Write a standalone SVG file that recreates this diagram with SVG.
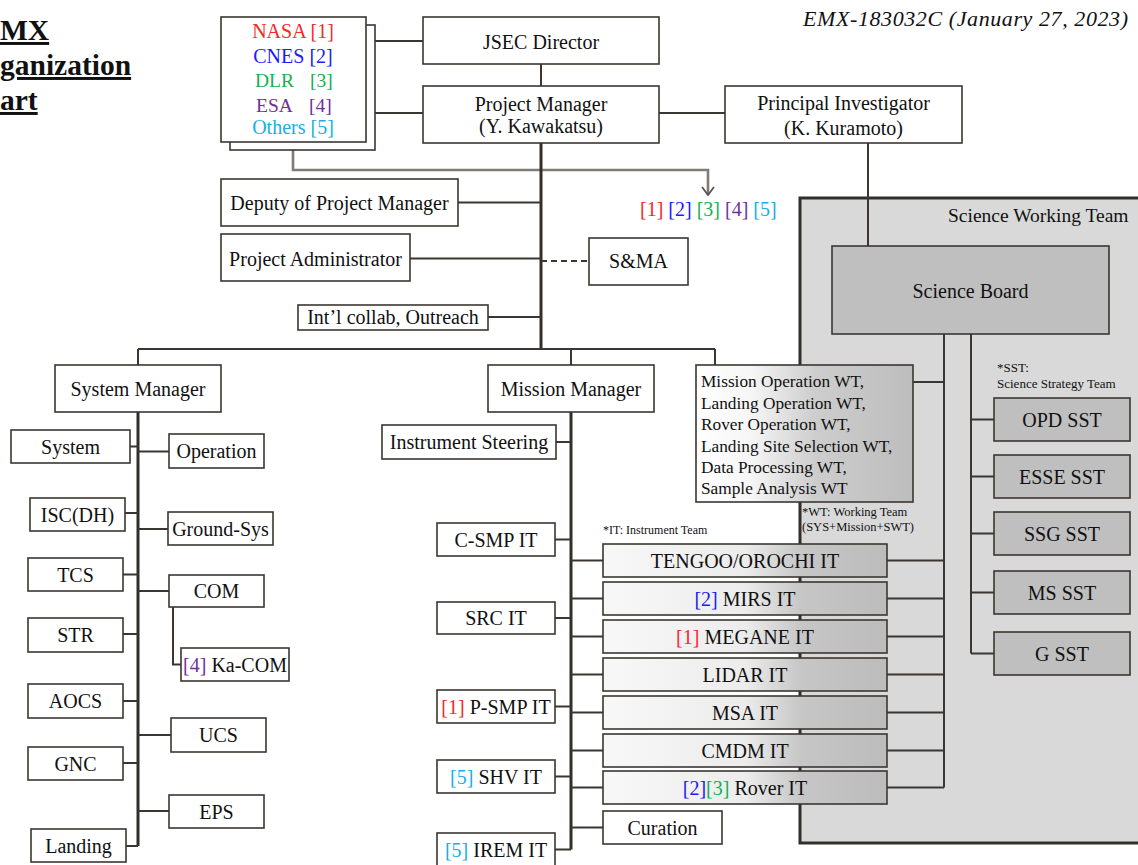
<svg xmlns="http://www.w3.org/2000/svg" width="1138" height="865" viewBox="0 0 1138 865">
<defs>
<style>
.b{fill:#fff;stroke:#3b3631;stroke-width:1.6}
.t{font-family:"Liberation Serif","Times New Roman",serif;font-size:20px;fill:#111;text-anchor:middle}
.s{font-family:"Liberation Serif","Times New Roman",serif;fill:#111}
.ln{stroke:#3b3631;stroke-width:2;fill:none}
.tr{stroke:#332e29;stroke-width:3;fill:none}
.red{fill:#f22a2a}.blu{fill:#1a1aff}.grn{fill:#15b050}.pur{fill:#7030a0}.cya{fill:#19aee8}
.gb{fill:#bfbfbf;stroke:#3b3631;stroke-width:1.6}
.it{fill:url(#itg);stroke:#3b3631;stroke-width:1.6}
</style>
<linearGradient id="itg" x1="0" y1="0" x2="1" y2="0">
<stop offset="0" stop-color="#f8f8f8"/>
<stop offset="0.5" stop-color="#ececec"/>
<stop offset="0.7" stop-color="#c6c6c6"/>
<stop offset="1" stop-color="#bcbcbc"/>
</linearGradient>
<linearGradient id="wtg" x1="0" y1="0" x2="1" y2="0">
<stop offset="0" stop-color="#ffffff"/>
<stop offset="0.25" stop-color="#f6f6f6"/>
<stop offset="0.55" stop-color="#cdcdcd"/>
<stop offset="1" stop-color="#bdbdbd"/>
</linearGradient>
<marker id="ah" viewBox="0 0 10 14" refX="9" refY="7" markerWidth="10" markerHeight="14" markerUnits="userSpaceOnUse" orient="auto">
<path d="M1,1 L9,7 L1,13" fill="none" stroke="#555" stroke-width="1.8"/>
</marker>
</defs>

<g id="title">
<text class="s" x="0" y="40" font-size="29.5" font-weight="bold" text-decoration="underline">MX</text>
<text class="s" x="0" y="75" font-size="29.5" font-weight="bold" text-decoration="underline">ganization</text>
<text class="s" x="0" y="110" font-size="29.5" font-weight="bold" text-decoration="underline">art</text>
<text class="s" x="1128" y="26" font-size="22" font-style="italic" text-anchor="end" textLength="325" lengthAdjust="spacing">EMX-183032C (January 27, 2023)</text>
</g>

<g id="swt">
<rect x="800" y="198" width="400" height="645" fill="#d9d9d9" stroke="#332e29" stroke-width="3"/>
<text class="s" x="948" y="222" font-size="19.5">Science Working Team</text>
</g>

<g id="connectors">
<path d="M293,142 V170 H708 V195" stroke="#807b75" stroke-width="2.6" fill="none" marker-end="url(#ah)"/>
<path class="ln" d="M375,41 H423 M366,113 H423"/>
<path class="ln" d="M541,64 V86 M659,113 H725 M868,143 V246"/>
<path class="tr" d="M541,143 V349" stroke-width="2.5"/>
<path class="ln" d="M458,202.5 H541 M410,258.5 H541 M488,317 H541"/>
<path class="ln" d="M541,261 H589" stroke-dasharray="6,4"/>
<path class="ln" d="M138,349 H715 M138,349 V365 M571,349 V365 M715,349 V365"/>
<path class="tr" d="M138,412 V846"/>
<path class="ln" d="M130,446.5 H138 M125,513 H138 M123,574.5 H138 M123,634 H138 M123,701 H138 M123,763 H138 M126,846 H138"/>
<path class="ln" d="M138,451.5 H169 M138,529 H168 M138,591 H169 M138,735 H171 M138,811 H169"/>
<path class="ln" d="M173,607 V664.5 H181"/>
<path class="tr" d="M571,412 V849.5"/>
<path class="ln" d="M556,442 H571 M555,539.5 H571 M555,618 H571 M555,706.5 H571 M555,776.5 H571 M555,849.5 H571"/>
<path class="ln" d="M571,560.5 H603 M571,598.5 H603 M571,636.5 H603 M571,674.5 H603 M571,712.5 H603 M571,750.5 H603 M571,787.5 H603 M571,827.5 H603"/>
<path class="ln" d="M944,334 V787.5 M913,382 H944"/>
<path class="ln" d="M887,560.5 H944 M887,598.5 H944 M887,636.5 H944 M887,674.5 H944 M887,712.5 H944 M887,750.5 H944 M887,787.5 H944"/>
<path class="ln" d="M971,334 V653.5 M971,419.5 H994 M971,476.5 H994 M971,533.5 H994 M971,592.5 H994 M971,653.5 H994"/>
</g>

<g id="partners">
<rect class="b" x="230" y="25" width="145" height="125"/>
<rect class="b" x="221" y="17" width="145" height="125"/>
<text class="t red" x="293" y="38" font-size="19.5">NASA [1]</text>
<text class="t blu" x="293" y="63" font-size="19.5">CNES [2]</text>
<text class="s grn" x="255" y="87" font-size="19.5">DLR</text>
<text class="s grn" x="310" y="87" font-size="19.5">[3]</text>
<text class="s pur" x="256" y="112" font-size="19.5">ESA</text>
<text class="s pur" x="309" y="112" font-size="19.5">[4]</text>
<text class="t cya" x="293" y="134" font-size="19.5">Others [5]</text>
</g>

<g id="partner-tags">
<text class="s" x="640" y="216" font-size="20"><tspan class="red">[1]</tspan> <tspan class="blu">[2]</tspan> <tspan class="grn">[3]</tspan> <tspan class="pur">[4]</tspan> <tspan class="cya">[5]</tspan></text>
</g>

<g id="jsec"><rect class="b" x="423" y="17" width="236" height="47"/><text class="t" x="541" y="49">JSEC Director</text></g>
<g id="pm"><rect class="b" x="423" y="86" width="236" height="57"/><text class="t" x="541" y="111">Project Manager</text><text class="t" x="541" y="133" font-size="16">(Y. Kawakatsu)</text></g>
<g id="pi"><rect class="b" x="725" y="86" width="237" height="57"/><text class="t" x="843.5" y="110">Principal Investigator</text><text class="t" x="843.5" y="135">(K. Kuramoto)</text></g>
<g id="deputy"><rect class="b" x="221" y="179" width="237" height="47"/><text class="t" x="339.5" y="209.5">Deputy of Project Manager</text></g>
<g id="admin"><rect class="b" x="221" y="234" width="189" height="47"/><text class="t" x="315.5" y="265.5">Project Administrator</text></g>
<g id="intl"><rect class="b" x="298" y="305" width="190" height="25"/><text class="t" x="393" y="324">Int’l collab, Outreach</text></g>
<g id="sma"><rect class="b" x="589" y="238" width="99" height="47"/><text class="t" x="638.5" y="268">S&amp;MA</text></g>

<g id="sysmgr"><rect class="b" x="55" y="365" width="166" height="47"/><text class="t" x="138" y="396">System Manager</text></g>
<g id="system"><rect class="b" x="11" y="430" width="119" height="33"/><text class="t" x="70.5" y="453.5">System</text></g>
<g id="operation"><rect class="b" x="169" y="434" width="95" height="34"/><text class="t" x="216.5" y="458">Operation</text></g>
<g id="isc"><rect class="b" x="30" y="498" width="95" height="33"/><text class="t" x="77.5" y="521.5">ISC(DH)</text></g>
<g id="groundsys"><rect class="b" x="168" y="512" width="105" height="33"/><text class="t" x="220.5" y="535.5">Ground-Sys</text></g>
<g id="tcs"><rect class="b" x="28" y="558" width="95" height="33"/><text class="t" x="75.5" y="581.5">TCS</text></g>
<g id="com"><rect class="b" x="169" y="575" width="95" height="32"/><text class="t" x="216.5" y="598">COM</text></g>
<g id="kacom"><rect class="b" x="181" y="648" width="108" height="33"/><text class="t" x="235" y="671.5"><tspan class="pur">[4]</tspan> Ka-COM</text></g>
<g id="str"><rect class="b" x="28" y="618" width="95" height="34"/><text class="t" x="75.5" y="642">STR</text></g>
<g id="aocs"><rect class="b" x="28" y="684" width="95" height="34"/><text class="t" x="75.5" y="708">AOCS</text></g>
<g id="ucs"><rect class="b" x="171" y="718" width="95" height="34"/><text class="t" x="218.5" y="742">UCS</text></g>
<g id="gnc"><rect class="b" x="28" y="747" width="95" height="33"/><text class="t" x="75.5" y="770.5">GNC</text></g>
<g id="eps"><rect class="b" x="169" y="795" width="95" height="33"/><text class="t" x="216.5" y="818.5">EPS</text></g>
<g id="landing"><rect class="b" x="31" y="829" width="95" height="33"/><text class="t" x="78.5" y="852.5">Landing</text></g>

<g id="missionmgr"><rect class="b" x="488" y="365" width="166" height="47"/><text class="t" x="571" y="396">Mission Manager</text></g>
<g id="steering"><rect class="b" x="382" y="425" width="174" height="34"/><text class="t" x="469" y="449">Instrument Steering</text></g>
<g id="csmp"><rect class="b" x="437" y="523" width="118" height="33"/><text class="t" x="496" y="546.5">C-SMP IT</text></g>
<g id="src"><rect class="b" x="437" y="602" width="118" height="32"/><text class="t" x="496" y="625">SRC IT</text></g>
<g id="psmp"><rect class="b" x="437" y="690" width="118" height="33"/><text class="t" x="496" y="713.5"><tspan class="red">[1]</tspan> P-SMP IT</text></g>
<g id="shv"><rect class="b" x="437" y="760" width="118" height="33"/><text class="t" x="496" y="783.5"><tspan class="cya">[5]</tspan> SHV IT</text></g>
<g id="irem"><rect class="b" x="437" y="833" width="118" height="33"/><text class="t" x="496" y="856.5"><tspan class="cya">[5]</tspan> IREM IT</text></g>

<g id="wt">
<rect x="696" y="365" width="217" height="137" fill="url(#wtg)" stroke="#3b3631" stroke-width="1.6"/>
<text class="s" x="701" y="387" font-size="17.3">Mission Operation WT,</text>
<text class="s" x="701" y="408.5" font-size="17.3">Landing Operation WT,</text>
<text class="s" x="701" y="430" font-size="17.3">Rover Operation WT,</text>
<text class="s" x="701" y="451.5" font-size="17.3">Landing Site Selection WT,</text>
<text class="s" x="701" y="473" font-size="17.3">Data Processing WT,</text>
<text class="s" x="701" y="494" font-size="17.3">Sample Analysis WT</text>
</g>
<g id="notes">
<text class="s" x="802" y="516" font-size="12.5">*WT: Working Team</text>
<text class="s" x="802" y="531" font-size="12.5">(SYS+Mission+SWT)</text>
<text class="s" x="603" y="534" font-size="12">*IT: Instrument Team</text>
<text class="s" x="997" y="372" font-size="13">*SST:</text>
<text class="s" x="997" y="388" font-size="13">Science Strategy Team</text>
</g>

<g id="tengoo"><rect class="it" x="603" y="544" width="284" height="33"/><text class="t" x="745" y="567.5">TENGOO/OROCHI IT</text></g>
<g id="mirs"><rect class="it" x="603" y="582" width="284" height="33"/><text class="t" x="745" y="605.5"><tspan class="blu">[2]</tspan> MIRS IT</text></g>
<g id="megane"><rect class="it" x="603" y="620" width="284" height="33"/><text class="t" x="745" y="643.5"><tspan class="red">[1]</tspan> MEGANE IT</text></g>
<g id="lidar"><rect class="it" x="603" y="658" width="284" height="33"/><text class="t" x="745" y="681.5">LIDAR IT</text></g>
<g id="msa"><rect class="it" x="603" y="696" width="284" height="33"/><text class="t" x="745" y="719.5">MSA IT</text></g>
<g id="cmdm"><rect class="it" x="603" y="734" width="284" height="33"/><text class="t" x="745" y="757.5">CMDM IT</text></g>
<g id="rover"><rect class="it" x="603" y="771" width="284" height="33"/><text class="t" x="745" y="794.5"><tspan class="blu">[2]</tspan><tspan class="grn">[3]</tspan> Rover IT</text></g>
<g id="curation"><rect class="b" x="603" y="811" width="119" height="33"/><text class="t" x="662.5" y="834.5">Curation</text></g>

<g id="sb"><rect class="gb" x="832" y="246" width="277" height="88"/><text class="t" x="970.5" y="298">Science Board</text></g>
<g id="opd"><rect class="gb" x="994" y="398" width="136" height="43"/><text class="t" x="1062" y="426.5">OPD SST</text></g>
<g id="esse"><rect class="gb" x="994" y="455" width="136" height="43"/><text class="t" x="1062" y="483.5">ESSE SST</text></g>
<g id="ssg"><rect class="gb" x="994" y="512" width="136" height="43"/><text class="t" x="1062" y="540.5">SSG SST</text></g>
<g id="ms"><rect class="gb" x="994" y="571" width="136" height="43"/><text class="t" x="1062" y="599.5">MS SST</text></g>
<g id="g"><rect class="gb" x="994" y="632" width="136" height="43"/><text class="t" x="1062" y="660.5">G SST</text></g>
</svg>
